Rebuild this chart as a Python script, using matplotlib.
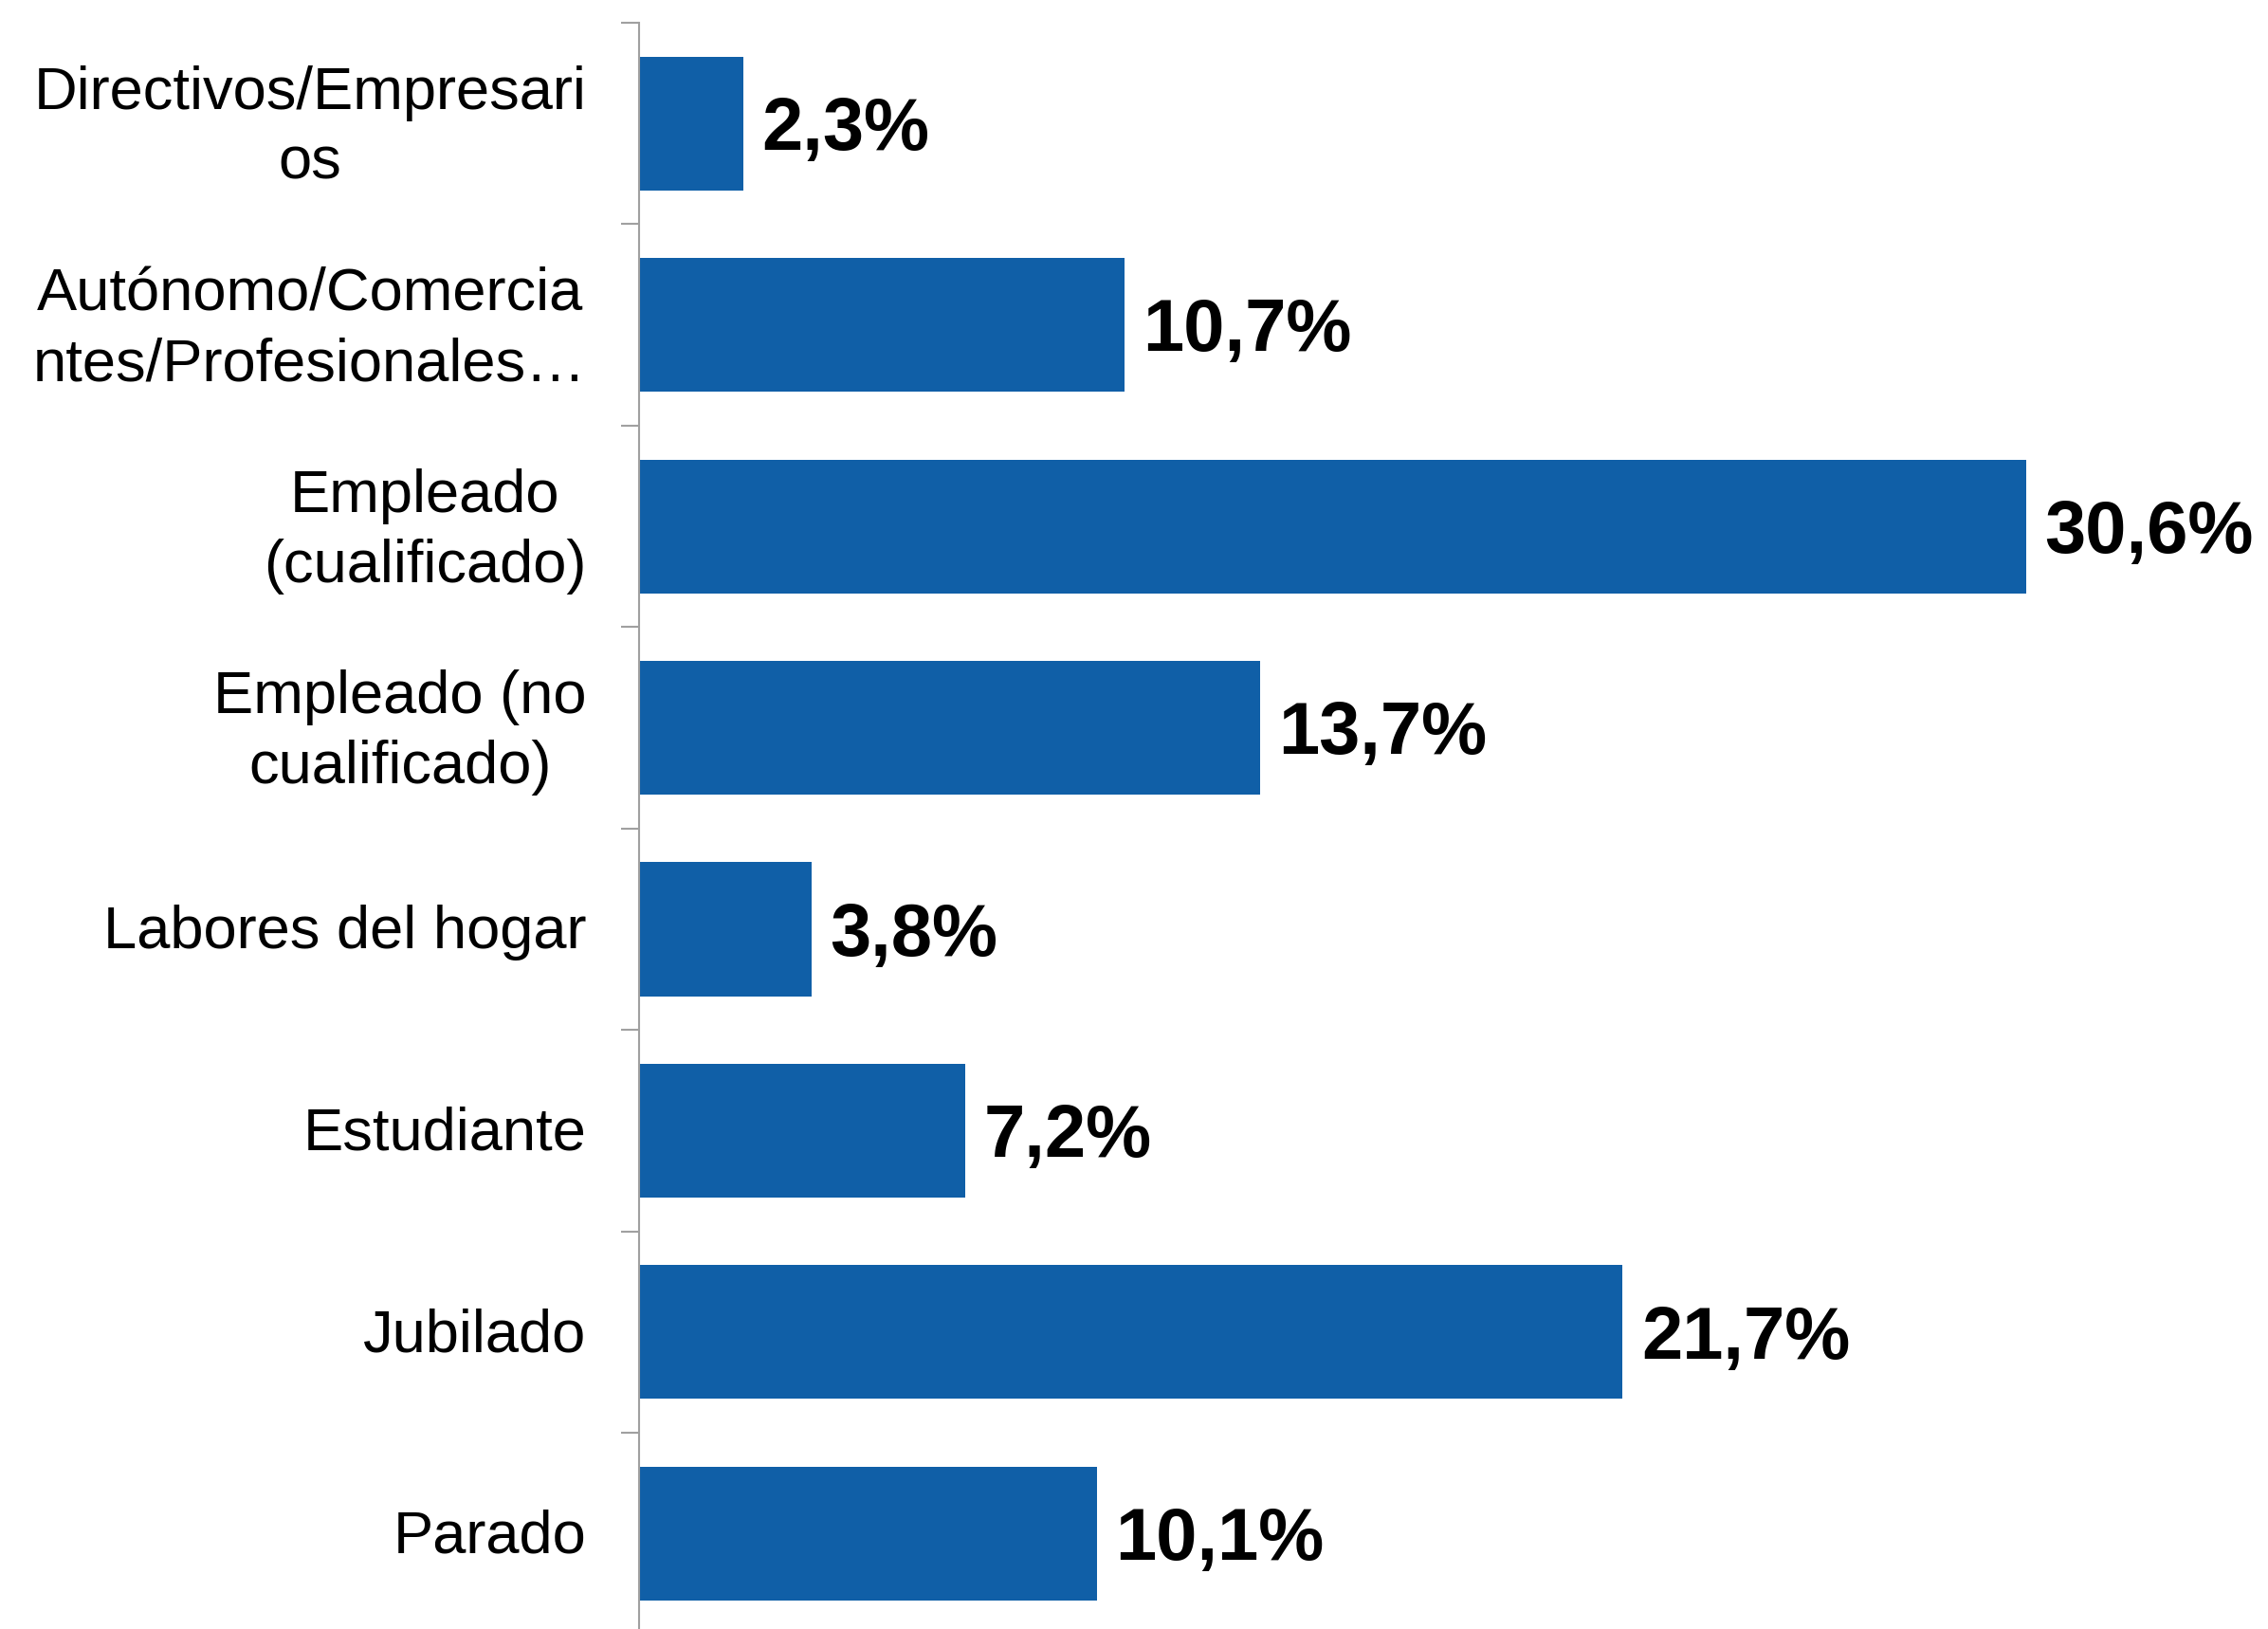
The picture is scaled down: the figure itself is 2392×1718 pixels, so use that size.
import matplotlib
matplotlib.use("Agg")
import matplotlib.pyplot as plt
import matplotlib.transforms as mtransforms
from matplotlib.ticker import FixedLocator

categories = [
    "Directivos/Empresari\nos",
    "Autónomo/Comercia\nntes/Profesionales…",
    "Empleado\n(cualificado)",
    "Empleado (no\ncualificado)",
    "Labores del hogar",
    "Estudiante",
    "Jubilado",
    "Parado",
]
values = [2.3, 10.7, 30.6, 13.7, 3.8, 7.2, 21.7, 10.1]
value_labels = ["2,3%", "10,7%", "30,6%", "13,7%", "3,8%", "7,2%", "21,7%", "10,1%"]

plt.rcParams['font.family'] = ['Liberation Sans', 'DejaVu Sans']

W, H = 2392, 1718
fig = plt.figure(figsize=(W / 100, H / 100), dpi=100)
left = 674 / W
top_px = 24
bottom_px = 1723.6
ax = fig.add_axes([left, 1 - bottom_px / H, 1 - left, (bottom_px - top_px) / H])

bar_color = "#105FA7"
n = len(categories)
ypos = list(range(n))
ax.barh(ypos, values, height=0.664, color=bar_color, edgecolor="none")

ax.set_xlim(0, (W - 674) / 47.81)
ax.set_ylim(n - 0.5, -0.5)

for y, v, lab in zip(ypos, values, value_labels):
    ax.annotate(lab, xy=(v, y), xytext=(14, -20), textcoords="offset points",
                ha="left", va="baseline", fontsize=56, fontweight="bold", color="black")

ax.set_yticks(ypos)
ax.set_yticklabels(categories, fontsize=45.5, multialignment="center", linespacing=1.33)
ax.tick_params(axis="y", which="major", length=0, pad=40)
for t in ax.get_yticklabels():
    dy = 6.5 if "\n" in t.get_text() else 2.0
    t.set_transform(t.get_transform() + mtransforms.ScaledTranslation(0, dy / 72, fig.dpi_scale_trans))
ax.yaxis.set_minor_locator(FixedLocator([i - 0.5 for i in range(n + 1)]))
ax.tick_params(axis="y", which="minor", length=13.7, width=1.5, color="#A0A0A0", direction="out")

ax.set_xticks([])
for s in ["top", "right", "bottom"]:
    ax.spines[s].set_visible(False)
ax.spines["left"].set_color("#A0A0A0")
ax.spines["left"].set_linewidth(1.5)

fig.savefig("out.png", dpi=100, facecolor="white")
